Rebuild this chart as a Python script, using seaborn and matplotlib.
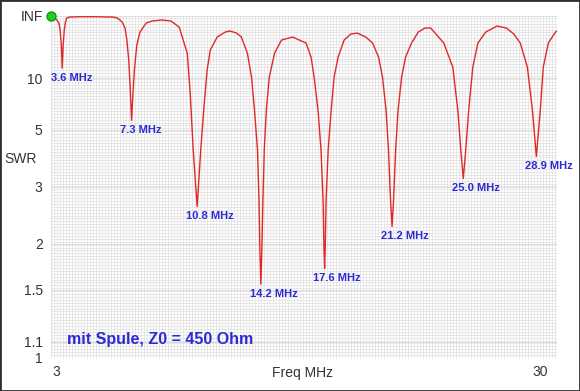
import numpy as np
import matplotlib
matplotlib.use("Agg")
import matplotlib.pyplot as plt
from matplotlib.transforms import ScaledTranslation
from matplotlib.patches import Rectangle
import seaborn as sns

# SWR sweep 3..30 MHz
freq_mhz = [
    3.00, 3.16, 3.32, 3.42, 3.49, 3.55, 3.60, 3.65, 3.71, 3.77, 3.84, 4.00,
    4.50, 5.00, 5.50, 6.00,
    6.30, 6.55, 6.80, 6.95, 7.05, 7.15, 7.22, 7.30, 7.37, 7.45, 7.58, 7.75, 8.08,
    8.40, 8.90, 9.40, 9.84,
    10.27, 10.43, 10.59, 10.80, 10.99, 11.15, 11.33, 11.50, 11.87, 12.30, 12.55,
    12.90, 13.16, 13.48, 13.70, 13.86, 14.02, 14.10, 14.15, 14.20,
    14.25, 14.31, 14.38, 14.49, 14.65, 14.93, 15.30, 15.89,
    16.61, 16.88, 17.04, 17.25, 17.41, 17.52, 17.57, 17.60,
    17.63, 17.68, 17.79, 17.95, 18.11, 18.32, 18.64, 19.00, 19.35,
    19.80, 20.16, 20.48, 20.69, 20.88, 21.01, 21.12, 21.20,
    21.28, 21.39, 21.52, 21.71, 21.92, 22.24, 22.60, 22.95,
    23.26, 23.96, 24.44, 24.71, 24.87, 25.00,
    25.13, 25.29, 25.51, 25.78, 26.20, 26.80,
    27.30, 27.70, 28.04, 28.42, 28.69, 28.90,
    29.11, 29.27, 29.54, 29.92, 30.00,
]
swr = [
    1000, 338, 170, 97, 47.7, 22.5, 12.1, 22.5, 47.7, 112, 338, 665,
    900, 1000, 900, 700,
    665, 338, 112, 55.8, 27.4, 14.5, 8.89, 5.56, 7.63, 11.6, 22.5, 41.6, 96,
    135, 170, 135, 61,
    17.4, 7.86, 4.09, 2.59, 4.09, 6.26, 11.6, 19.1, 31.5, 41.6, 44.4,
    39.0, 31.5, 17.4, 10.2, 6.26, 4.09, 2.71, 1.91, 1.55,
    1.91, 2.71, 4.09, 6.26, 10.2, 17.4, 27.4, 31.5,
    24.3, 15.6, 10.2, 6.26, 4.09, 2.71, 1.91, 1.71,
    1.91, 2.71, 4.09, 6.26, 10.2, 15.6, 27.4, 36.9, 39.0,
    31.5, 24.3, 15.6, 10.2, 6.26, 4.09, 2.71, 2.25,
    2.71, 4.09, 6.26, 10.2, 15.6, 24.3, 41.6, 55.8,
    55.8, 24.3, 12.4, 6.26, 4.09, 3.21,
    4.09, 6.26, 12.4, 24.3, 41.6, 67,
    55.8, 36.9, 24.3, 12.4, 6.26, 3.87,
    6.26, 12.4, 24.3, 41.6, 44.4,
]
dip_freqs = [3.6, 7.3, 10.8, 14.2, 17.6, 21.2, 25.0, 28.9]

y_ticks = [1, 1.1, 1.5, 2, 3, 5, 10, 1e6]
y_ticklabels = ["1", "1.1", "1.5", "2", "3", "5", "10", "INF"]
x_ticks = [3, 30]
x_ticklabels = ["3", "30"]
note = "mit Spule, Z0 = 450 Ohm"

BLUE = "#2b2bd6"
TXT = "#333333"

sns.set_theme(style="white")
plt.rcParams["font.family"] = ["Liberation Sans", "DejaVu Sans"]


# reflection-coefficient style axis: rho = (s-1)/(s+1)
def fwd(s):
    s = np.asarray(s, dtype=float)
    return (s - 1.0) / (s + 1.0)


def inv(r):
    r = np.asarray(r, dtype=float)
    with np.errstate(divide="ignore", invalid="ignore"):
        return (1.0 + r) / (1.0 - r)


fig = plt.figure(figsize=(5.8, 3.91), dpi=100)
ax = fig.add_axes([0.0879, 0.0844, 0.8724, 0.8747])
ax.set_yscale("function", functions=(fwd, inv))

sns.lineplot(x=freq_mhz, y=swr, ax=ax, sort=False, estimator=None,
             color="#e02828", lw=1.0)

ax.set_xlim(3, 30)
ax.set_ylim(1, 1e6)

# dense background grid
ax.set_xticks(np.arange(3, 30.01, 0.16), minor=True)
ax.set_yticks(inv(np.arange(0.0, 0.999, 0.0085)), minor=True)
ax.grid(which="minor", color="#e0e0e0", lw=0.5)
ax.grid(which="major", color="#d2d2d2", lw=0.5)

ax.set_yticks(y_ticks)
ax.set_yticklabels(y_ticklabels)
ax.set_xticks(x_ticks)
ax.set_xticklabels(x_ticklabels)
ax.tick_params(which="both", length=0, labelsize=10, colors=TXT)
ax.tick_params(axis="y", pad=6)
ax.tick_params(axis="x", pad=5)

xl = ax.get_xticklabels()
xl[0].set_ha("left")
xl[0].set_transform(xl[0].get_transform() + ScaledTranslation(1.5 / 100, 0, fig.dpi_scale_trans))
xl[1].set_ha("right")
xl[1].set_transform(xl[1].get_transform() + ScaledTranslation(-9 / 100, 0, fig.dpi_scale_trans))

for s in ax.spines.values():
    s.set_visible(False)

ax.set_ylabel("SWR", rotation=0, fontsize=10, color=TXT, ha="center", va="center")
ax.yaxis.set_label_coords(-0.061, 0.582)
ax.set_xlabel("Freq MHz", fontsize=10, color=TXT, va="center")
ax.xaxis.set_label_coords(0.498, -0.044)

# marker at start of sweep
ax.plot([freq_mhz[0]], [1e6], "o", ms=6.5, mfc="#22cc22", mec="#119911", clip_on=False, zorder=5)

f_arr = np.array(freq_mhz)
s_arr = np.array(swr)
for f in dip_freqs:
    i = int(np.argmin(np.abs(f_arr - f)))
    ax.annotate(f"{f:.1f} MHz", xy=(f, s_arr[i]), xytext=(-8, -3.5),
                textcoords="offset points", ha="left", va="top",
                fontsize=8, fontweight="bold", color=BLUE)

ax.text(0.0316, 0.053, note, transform=ax.transAxes, ha="left", va="center",
        fontsize=11.5, fontweight="bold", color=BLUE)

fig.add_artist(Rectangle((0, 0), 1, 1, transform=fig.transFigure, fill=False,
                         lw=2, ec="#303030"))

fig.savefig("out.png", dpi=100)
